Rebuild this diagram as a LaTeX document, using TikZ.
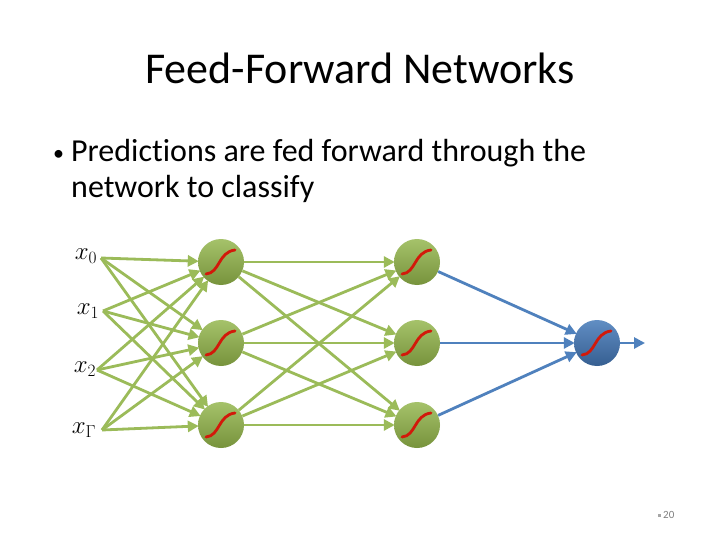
\documentclass[tikz,border=0pt]{standalone}
\usepackage{fontspec}
\setmainfont[Ligatures=NoCommon]{Carlito}
\usetikzlibrary{arrows.meta}
\definecolor{ogreen}{HTML}{9BBB59}
\definecolor{dgreen}{HTML}{77933C}
\definecolor{oblue}{HTML}{4F81BD}
\definecolor{dblue}{HTML}{365F91}
\definecolor{sigred}{RGB}{210,25,10}
\begin{document}
\begin{tikzpicture}[x=1pt,y=-1pt,
  unit/.style={circle,minimum size=46pt,inner sep=0pt,top color=ogreen!90!white,bottom color=dgreen,draw=none},
  outunit/.style={circle,minimum size=46pt,inner sep=0pt,top color=oblue!90!white,bottom color=dblue,draw=none},
  garrow/.style={draw=ogreen,line width=2.8pt,-{Triangle[length=11pt,width=11pt]},shorten >=-1pt},
  barrow/.style={draw=oblue,line width=2.8pt,-{Triangle[length=11pt,width=11pt]},shorten >=-1pt},
  sig/.style={draw=sigred,line width=2.8pt,line cap=round},
  inlab/.style={font=\fontsize{24}{28}\selectfont,inner sep=0pt}
]
\useasboundingbox (0,0) rectangle (720,540);
\fill[white] (0,0) rectangle (720,540);

% title and bullet
\node (title) at (360,68) {\fontsize{44}{52}\selectfont Feed-Forward Networks};
\node[anchor=base west,inner sep=0pt] (bul) at (53,161) {\fontsize{22}{26}\selectfont •};
\node[anchor=base west,inner sep=0pt,align=left] (txt1) at (71,162) {\fontsize{32}{38}\selectfont Predictions are fed forward through the};
\node[anchor=base west,inner sep=0pt,align=left] (txt2) at (71,197) {\fontsize{32}{38}\selectfont network to classify};

% inputs
\node[inlab] (x0) at (86,256) {$x_0$};
\node[inlab] (x1) at (88,311) {$x_1$};
\node[inlab] (x2) at (85,369) {$x_2$};
\node[inlab] (x3) at (84,430) {$x_\Gamma$};
\coordinate (i0) at (101,258);
\coordinate (i1) at (103,311);
\coordinate (i2) at (97,370);
\coordinate (i3) at (102,430);

% units
\node[unit] (a1) at (221,262) {};
\node[unit] (a2) at (221,343) {};
\node[unit] (a3) at (221,425) {};
\node[unit] (b1) at (417,262) {};
\node[unit] (b2) at (417,343) {};
\node[unit] (b3) at (417,425) {};
\node[outunit] (o) at (597,343) {};
\coordinate (out) at (645,343);

% connections
\foreach \i in {0,1,2,3}{
  \foreach \j in {1,2,3}{
    \draw[garrow] (i\i) -- (a\j);
  }
}
\foreach \i in {1,2,3}{
  \foreach \j in {1,2,3}{
    \draw[garrow] (a\i) -- (b\j);
  }
  \draw[barrow] (b\i) -- (o);
}
\draw[barrow,shorten >=0pt] (o) -- (out);

% sigmoid curves
\foreach \n in {a1,a2,a3,b1,b2,b3,o}{
  \draw[sig] ([shift={(-15,12)}]\n.center) .. controls ([shift={(-1,11)}]\n.center) and ([shift={(-3,-10)}]\n.center) .. ([shift={(14,-12)}]\n.center);
}

% page number
\node[anchor=west,inner sep=0pt,text=gray] (pg) at (663,515) {\fontsize{11}{13}\selectfont 20};
\fill[gray!70] (658,513.5) rectangle (661,516.5);
\end{tikzpicture}
\end{document}
